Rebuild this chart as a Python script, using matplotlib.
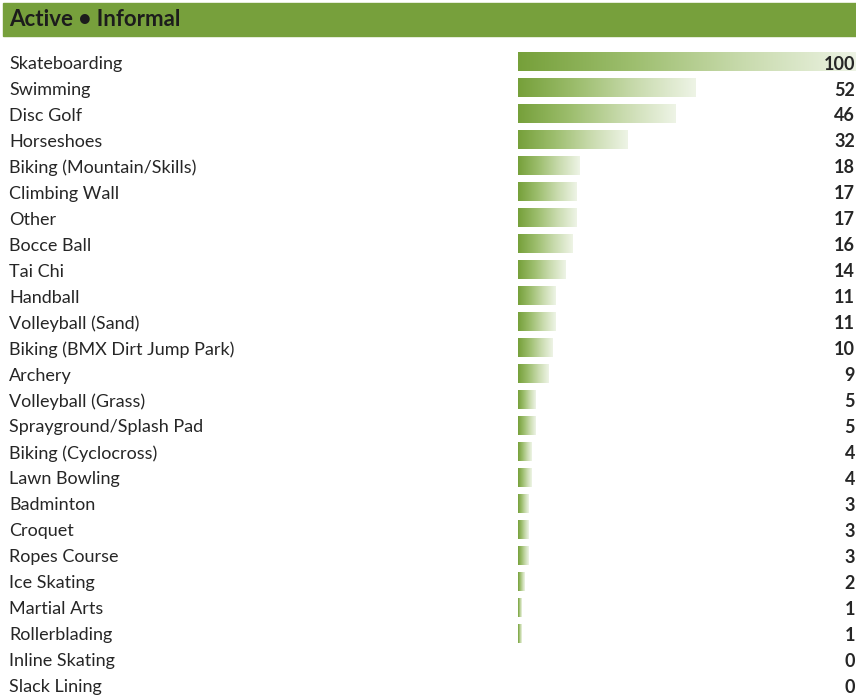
import matplotlib
matplotlib.use("Agg")
import matplotlib.pyplot as plt
import numpy as np
from matplotlib.colors import LinearSegmentedColormap
from matplotlib.patches import Rectangle
from matplotlib.transforms import blended_transform_factory

TITLE = "Active \u2022 Informal"
activities = [
    "Skateboarding", "Swimming", "Disc Golf", "Horseshoes",
    "Biking (Mountain/Skills)", "Climbing Wall", "Other", "Bocce Ball",
    "Tai Chi", "Handball", "Volleyball (Sand)", "Biking (BMX Dirt Jump Park)",
    "Archery", "Volleyball (Grass)", "Sprayground/Splash Pad",
    "Biking (Cyclocross)", "Lawn Bowling", "Badminton", "Croquet",
    "Ropes Course", "Ice Skating", "Martial Arts", "Rollerblading",
    "Inline Skating", "Slack Lining",
]
counts = [100, 52, 46, 32, 18, 17, 17, 16, 14, 11, 11, 10, 9, 5, 5,
          4, 4, 3, 3, 3, 2, 1, 1, 0, 0]

W, H = 856, 698
DPI = 100
GREEN = "#77A03C"
TEXT = "#262626"

plt.rcParams["font.family"] = ["Lato", "DejaVu Sans"]

fig = plt.figure(figsize=(W / DPI, H / DPI), dpi=DPI)
fig.patch.set_facecolor("white")

# header band
fig.patches.append(Rectangle((3 / W, 1 - 36 / H), (W - 3) / W, 33 / H,
                             transform=fig.transFigure, color=GREEN, zorder=0))
fig.text(9 / W, 1 - 20 / H, TITLE, fontsize=16, fontweight="bold",
         color="#1c1c1c", va="center", ha="left")

# bar area: starts at x=518px, value 100 reaches just past the right edge
x0, x100 = 518, 860
ax = fig.add_axes([x0 / W, 0, (x100 - x0) / W, (H - 49) / H])
ax.axis("off")

cmap = LinearSegmentedColormap.from_list(
    "fade", ["#76A03A", "#9DBE6E", "#C9DBAE", "#EEF4E6"])
grad = np.linspace(0, 1, 256).reshape(1, -1)
bar_h = 0.73

for i, v in enumerate(counts):
    if v > 0:
        ax.imshow(grad, cmap=cmap, aspect="auto", interpolation="bilinear",
                  extent=(0, v, i + bar_h / 2, i - bar_h / 2), zorder=2)

ax.set_xlim(0, 100)
ax.set_ylim(len(activities) - 0.5, -0.5)

# labels on the left, counts flush to the right edge
lab_tf = blended_transform_factory(fig.transFigure, ax.transData)
for i, (name, v) in enumerate(zip(activities, counts)):
    fig.text(9 / W, i + 0.08, name, transform=lab_tf, fontsize=13,
             color=TEXT, va="center", ha="left")
    fig.text(855 / W, i + 0.08, str(v), transform=lab_tf, fontsize=13,
             fontweight="bold", color=TEXT, va="center", ha="right",
             zorder=5)

fig.savefig("out.png", dpi=DPI)
